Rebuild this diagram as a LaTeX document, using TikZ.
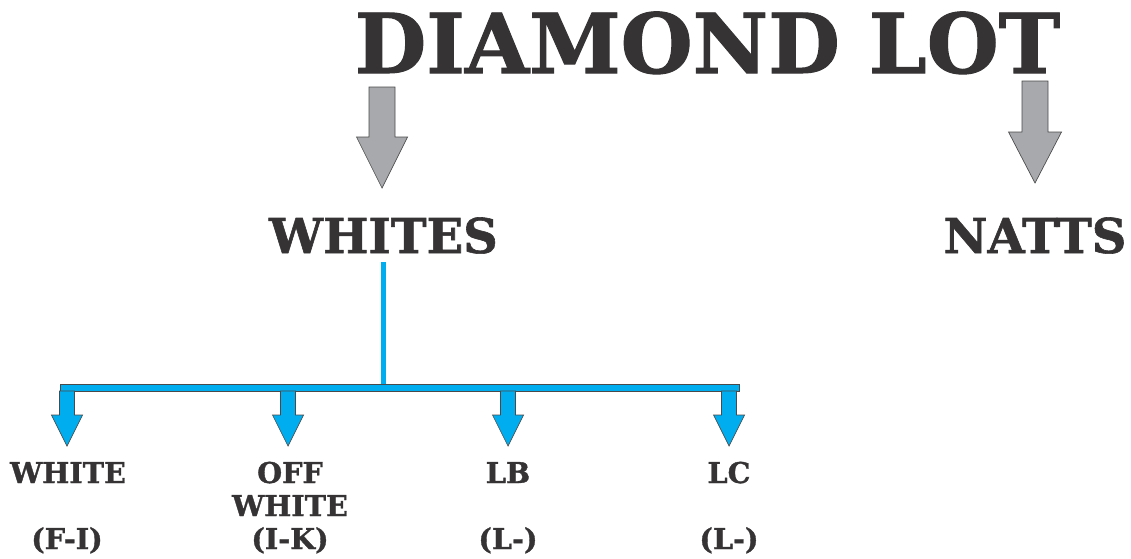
\documentclass[tikz,border=0pt]{standalone}
\usepackage{fontspec}
\setmainfont{DejaVu Serif}[BoldFeatures={FakeBold=1.2}]
\definecolor{inkc}{HTML}{353334}
\definecolor{grayc}{HTML}{A7A9AC}
\definecolor{bluec}{HTML}{00AEEF}
\definecolor{edgec}{HTML}{4A4A4A}
\tikzset{
  title/.style={text=inkc,font=\bfseries\fontsize{62}{62}\selectfont,inner sep=0pt,anchor=base},
  group/.style={text=inkc,font=\bfseries\fontsize{36}{36}\selectfont,inner sep=0pt,anchor=base},
  grade/.style={text=inkc,font=\bfseries\fontsize{21.5}{21.5}\selectfont,inner sep=0pt,anchor=base},
  grayarrow/.style={fill=grayc,draw=edgec,line width=0.5pt,line join=miter},
  bluearrow/.style={fill=bluec,draw=edgec,line width=0.5pt,line join=miter},
}
\begin{document}
\begin{tikzpicture}[x=0.75pt,y=-0.75pt]
\useasboundingbox (0,0) rectangle (1131,558);
\node[title] (lot) at (707.5,73) {DIAMOND LOT};
\node[group] (whites) at (383.5,253) {WHITES};
\node[group] (natts) at (1035,253) {NATTS};
% grey arrows under the title
\coordinate (g1) at (382,87);
\coordinate (g2) at (1035,81);
\draw[grayarrow] (g1) ++(-13,0) -- ++(0,50) -- ++(-12.5,0) -- ++(25.5,51) -- ++(25.5,-51) -- ++(-12.5,0) -- ++(0,-50) -- cycle;
\draw[grayarrow] (g2) ++(-13,0) -- ++(0,51) -- ++(-13.5,0) -- ++(26.5,51) -- ++(26.5,-51) -- ++(-13.5,0) -- ++(0,-51) -- cycle;
% stem and bar
\coordinate (stemtop) at (383.5,262);
\coordinate (bar) at (383.5,384);
\draw[draw=edgec,line width=0.35pt,double=bluec,double distance=3.2pt] (stemtop) -- (bar);
\draw[fill=bluec,draw=edgec,line width=0.5pt] (60,384) rectangle (739,391);
% blue arrows
\coordinate (b1) at (67,391);
\coordinate (b2) at (288,391);
\coordinate (b3) at (508,391);
\coordinate (b4) at (729,391);
\draw[bluearrow] (b1) ++(-7.5,0) -- ++(0,24) -- ++(-8,0) -- ++(15.5,31) -- ++(15.5,-31) -- ++(-8,0) -- ++(0,-24) -- cycle;
\draw[bluearrow] (b2) ++(-7.5,0) -- ++(0,24) -- ++(-8,0) -- ++(15.5,31) -- ++(15.5,-31) -- ++(-8,0) -- ++(0,-24) -- cycle;
\draw[bluearrow] (b3) ++(-7.5,0) -- ++(0,24) -- ++(-8,0) -- ++(15.5,31) -- ++(15.5,-31) -- ++(-8,0) -- ++(0,-24) -- cycle;
\draw[bluearrow] (b4) ++(-7.5,0) -- ++(0,24) -- ++(-8,0) -- ++(15.5,31) -- ++(15.5,-31) -- ++(-8,0) -- ++(0,-24) -- cycle;
% grades
\node[grade] (white) at (68,483) {WHITE};
\node[grade] (whiterange) at (67,549) {(F-I)};
\node[grade] (off) at (290,483) {OFF};
\node[grade] (offwhite) at (290,516) {WHITE};
\node[grade] (offrange) at (290,549) {(I-K)};
\node[grade] (lb) at (508,483) {LB};
\node[grade] (lbrange) at (508,549) {(L-)};
\node[grade] (lc) at (729,483) {LC};
\node[grade] (lcrange) at (729,549) {(L-)};
\end{tikzpicture}
\end{document}
